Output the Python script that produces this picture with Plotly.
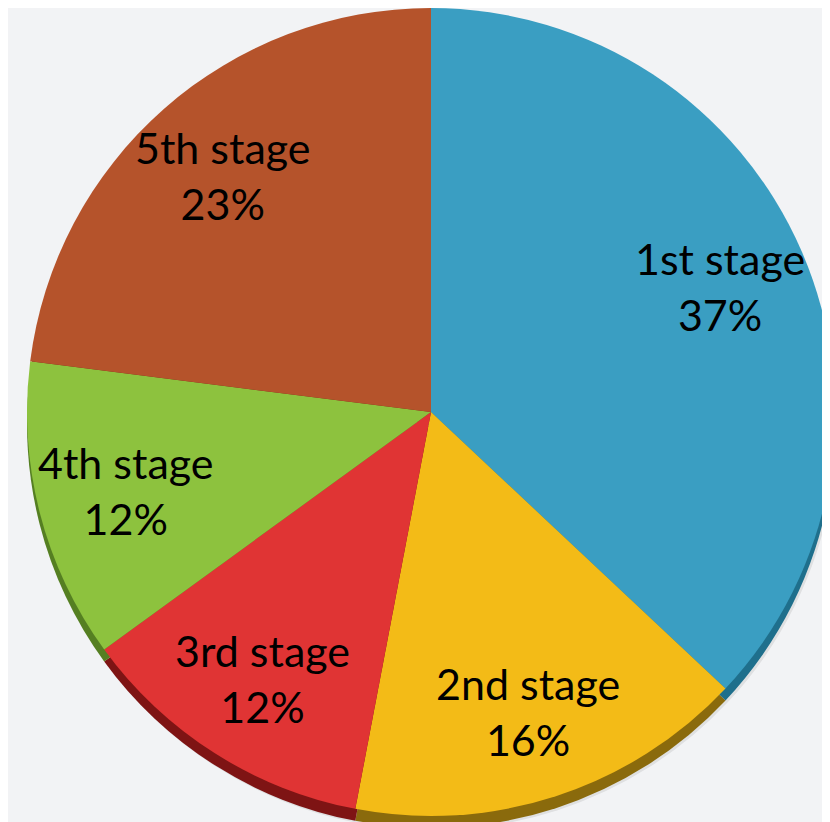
import math
import plotly.graph_objects as go

# ---- data ----
stages = ["1st stage", "2nd stage", "3rd stage", "4th stage", "5th stage"]
shares = [37, 16, 12, 12, 23]
pct_labels = ["37%", "16%", "12%", "12%", "23%"]

# ---- style ----
W, H = 830, 822
face_colors = ["#3A9EC2", "#F3BB17", "#E03434", "#8DC23E", "#B5532B"]
rim_colors = ["#1F6F8C", "#8A6A0C", "#7E1414", "#557F22", "#6F2F15"]
FONT = "Lato"

left_pad, bottom_pad, rim = 16, 14, 12
dom_x = [left_pad / W, 1.0]
dom_y_face = [bottom_pad / H, 1.0]
dom_y_rim = [(bottom_pad - rim) / H, 1.0 - rim / H]

fig = go.Figure()

# soft shadow
fig.add_trace(go.Pie(
    labels=stages, values=shares, sort=False, direction="clockwise", rotation=0,
    marker=dict(colors=["rgba(0,0,0,0.08)"] * 5, line=dict(width=0)),
    textinfo="none", hoverinfo="skip", showlegend=False,
    domain=dict(x=[(left_pad + 4) / W, 1.0], y=[0.0, 1.0 - (bottom_pad + 0) / H]),
))
# 3D rim
fig.add_trace(go.Pie(
    labels=stages, values=shares, sort=False, direction="clockwise", rotation=0,
    marker=dict(colors=rim_colors, line=dict(width=0)),
    textinfo="none", hoverinfo="skip", showlegend=False,
    domain=dict(x=dom_x, y=dom_y_rim),
))
# face
fig.add_trace(go.Pie(
    labels=stages, values=shares, sort=False, direction="clockwise", rotation=0,
    marker=dict(colors=face_colors, line=dict(width=0)),
    textinfo="none", showlegend=False,
    domain=dict(x=dom_x, y=dom_y_face),
))

# labels placed along each slice's mid angle
dw = (dom_x[1] - dom_x[0]) * W
dh = (dom_y_face[1] - dom_y_face[0]) * H
R = min(dw, dh) / 2
cx = (dom_x[0] + dom_x[1]) / 2 * W
cy_from_top = H - (dom_y_face[0] + dom_y_face[1]) / 2 * H
total = sum(shares)
cum = 0
annotations = []
for name, v, p in zip(stages, shares, pct_labels):
    mid = (cum + v / 2) / total * 2 * math.pi
    cum += v
    r = 0.78 * R
    px = cx + r * math.sin(mid)
    py = cy_from_top - r * math.cos(mid)
    annotations.append(dict(
        x=px / W, y=1 - py / H, xref="paper", yref="paper",
        text=f"{name}<br>{p}", showarrow=False,
        font=dict(family=FONT, size=43, color="#000000"),
        align="center", xanchor="center", yanchor="middle",
    ))

fig.update_layout(
    width=W, height=H,
    margin=dict(l=0, r=0, t=0, b=0),
    paper_bgcolor="#F2F3F5",
    plot_bgcolor="#F2F3F5",
    annotations=annotations,
    showlegend=False,
)

fig.write_html("out.html")
